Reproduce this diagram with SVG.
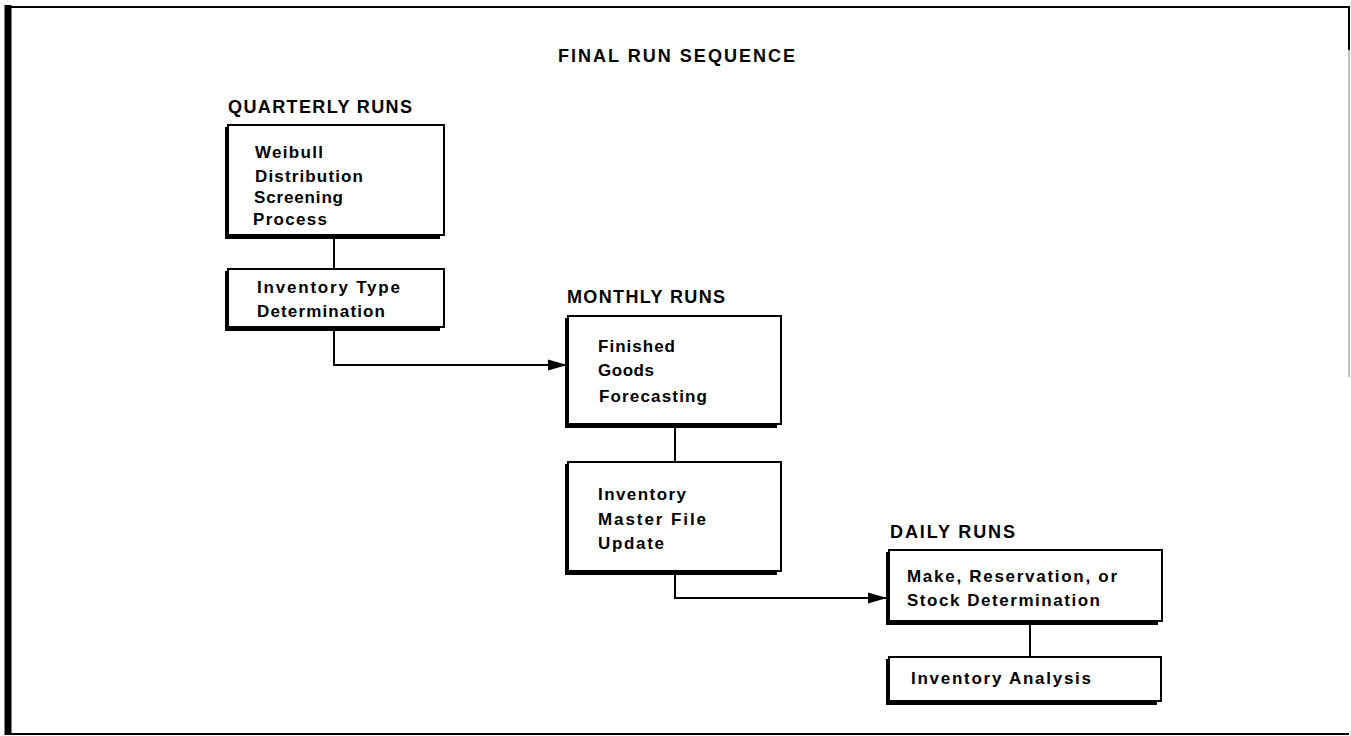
<svg xmlns="http://www.w3.org/2000/svg" width="1351" height="736" viewBox="0 0 1351 736">
<defs>
<marker id="arr" markerUnits="userSpaceOnUse" markerWidth="20" markerHeight="14" refX="19" refY="7" orient="auto">
<path d="M0,1.5 L19,7 L0,12.5 Z" fill="#000"/>
</marker>
<style>
.box{fill:#fff;stroke:#000;stroke-width:2}
.sh{fill:none;stroke:#000;stroke-width:4}
.t{font-family:"Liberation Sans",Arial,sans-serif;font-size:17px;font-weight:bold;fill:#000}
.h{font-family:"Liberation Sans",Arial,sans-serif;font-size:18px;font-weight:bold;fill:#000}
.c{fill:none;stroke:#000;stroke-width:2}
</style>
</defs>
<rect x="0" y="0" width="1351" height="736" fill="#fff"/>
<g id="frame">
<line x1="5" y1="7" x2="1349" y2="7" stroke="#000" stroke-width="2"/>
<line x1="8" y1="5" x2="8" y2="735" stroke="#000" stroke-width="7"/>
<line x1="5" y1="734" x2="1349" y2="734" stroke="#000" stroke-width="2"/>
<line x1="1349" y1="6" x2="1349" y2="50" stroke="#000" stroke-width="2"/>
<line x1="1349" y1="50" x2="1349" y2="377" stroke="#999" stroke-width="1.2"/>
</g>
<g id="labels">
<text class="h" x="558" y="62" textLength="237" lengthAdjust="spacing">FINAL RUN SEQUENCE</text>
<text class="h" x="228" y="113" textLength="184" lengthAdjust="spacing">QUARTERLY  RUNS</text>
<text class="h" x="567" y="303" textLength="158" lengthAdjust="spacing">MONTHLY  RUNS</text>
<text class="h" x="890" y="538" textLength="125" lengthAdjust="spacing">DAILY RUNS</text>
</g>
<g id="connectors">
<line class="c" x1="334" y1="236" x2="334" y2="269"/>
<path class="c" d="M334,328 L334,365 L567,365" marker-end="url(#arr)"/>
<line class="c" x1="675" y1="425" x2="675" y2="462"/>
<path class="c" d="M675,572 L675,598 L887,598" marker-end="url(#arr)"/>
<line class="c" x1="1030" y1="622" x2="1030" y2="657"/>
</g>
<g id="weibull">
<rect class="box" x="228" y="125" width="216" height="110"/>
<path class="sh" d="M227,127 L227,237 L440,237"/>
<text class="t" x="255" y="158" textLength="68" lengthAdjust="spacing">Weibull</text>
<text class="t" x="255" y="182" textLength="108" lengthAdjust="spacing">Distribution</text>
<text class="t" x="254" y="203" textLength="89" lengthAdjust="spacing">Screening</text>
<text class="t" x="253" y="225" textLength="74" lengthAdjust="spacing">Process</text>
</g>
<g id="invtype">
<rect class="box" x="228" y="269" width="216" height="58"/>
<path class="sh" d="M227,271 L227,329 L440,329"/>
<text class="t" x="257" y="293" textLength="143" lengthAdjust="spacing">Inventory Type</text>
<text class="t" x="257" y="317" textLength="128" lengthAdjust="spacing">Determination</text>
</g>
<g id="finished">
<rect class="box" x="568" y="316" width="213" height="108"/>
<path class="sh" d="M567,318 L567,426 L777,426"/>
<text class="t" x="598" y="352" textLength="77" lengthAdjust="spacing">Finished</text>
<text class="t" x="598" y="376" textLength="56" lengthAdjust="spacing">Goods</text>
<text class="t" x="599" y="402" textLength="108" lengthAdjust="spacing">Forecasting</text>
</g>
<g id="master">
<rect class="box" x="568" y="462" width="213" height="109"/>
<path class="sh" d="M567,464 L567,573 L777,573"/>
<text class="t" x="598" y="500" textLength="88" lengthAdjust="spacing">Inventory</text>
<text class="t" x="598" y="525" textLength="108" lengthAdjust="spacing">Master File</text>
<text class="t" x="598" y="549" textLength="66" lengthAdjust="spacing">Update</text>
</g>
<g id="make">
<rect class="box" x="889" y="550" width="273" height="71"/>
<path class="sh" d="M888,552 L888,623 L1158,623"/>
<text class="t" x="907" y="582" textLength="210" lengthAdjust="spacing">Make, Reservation, or</text>
<text class="t" x="907" y="606" textLength="193" lengthAdjust="spacing">Stock Determination</text>
</g>
<g id="analysis">
<rect class="box" x="889" y="657" width="272" height="44"/>
<path class="sh" d="M888,659 L888,703 L1157,703"/>
<text class="t" x="911" y="684" textLength="180" lengthAdjust="spacing">Inventory Analysis</text>
</g>
</svg>
